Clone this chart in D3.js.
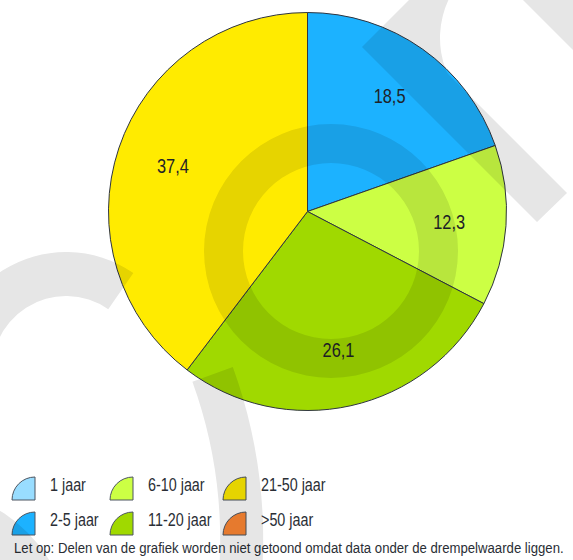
<!DOCTYPE html>
<html>
<head>
<meta charset="utf-8">
<script src="https://cdn.jsdelivr.net/npm/d3@7"></script>
<style>
  html, body { margin: 0; padding: 0; background: #fff; }
  svg { display: block; }
  text { font-family: "Liberation Sans", Arial, sans-serif; }
</style>
</head>
<body>
<div id="chart"></div>
<script>
// ---- data ----
const categories = ["1 jaar", "2-5 jaar", "6-10 jaar", "11-20 jaar", "21-50 jaar", ">50 jaar"];
const values = [null, 18.5, 12.3, 26.1, 37.4, null];   // null = below threshold, not shown
const labels = ["", "18,5", "12,3", "26,1", "37,4", ""];
const colors = ["#99DDFF", "#1CB2FF", "#CCFF44", "#A0D900", "#FFEB00", "#FF8833"];
const footnote = "Let op: Delen van de grafiek worden niet getoond omdat data onder de drempelwaarde liggen.";

const W = 573, H = 560;
const cx = 307.5, cy = 211.5, R = 199;
const deg = Math.PI / 180;
const narrow = 0.82;   // horizontal squeeze to mimic the condensed typeface

const svg = d3.select("#chart").append("svg").attr("width", W).attr("height", H);

// ---- pie ----
const data = categories.map((c, i) => ({ cat: c, value: values[i], label: labels[i], color: colors[i] }))
  .filter(d => d.value != null);
const pie = d3.pie().sort(null).value(d => d.value);
const arcs = pie(data);
const arc = d3.arc().innerRadius(0).outerRadius(R);
const labelArc = d3.arc().innerRadius(142).outerRadius(142);

const g = svg.append("g").attr("transform", `translate(${cx},${cy})`);
g.selectAll("path.slice").data(arcs).join("path")
  .attr("class", "slice")
  .attr("d", arc)
  .attr("fill", d => d.data.color)
  .attr("stroke", "#2f3540")
  .attr("stroke-width", 1)
  .attr("stroke-linejoin", "round");

g.selectAll("g.lbl").data(arcs).join("g")
  .attr("class", "lbl")
  .attr("transform", d => `translate(${labelArc.centroid(d)}) scale(${narrow},1)`)
  .append("text")
  .attr("text-anchor", "middle")
  .attr("dy", "0.36em")
  .attr("font-size", 20)
  .attr("fill", "#1f2328")
  .text(d => d.data.label);

// ---- legend ----
const leg = svg.append("g");
const iconR = 23;
const colX = [12, 110, 223];
const rowY = [477, 512];
const iconArc = d3.arc().innerRadius(0).outerRadius(iconR).startAngle(-Math.PI / 2).endAngle(0);
categories.forEach((c, i) => {
  const col = Math.floor(i / 2), row = i % 2;
  const x0 = colX[col], y0 = rowY[row];
  leg.append("path")
    .attr("transform", `translate(${x0 + iconR},${y0 + iconR})`)
    .attr("d", iconArc())
    .attr("fill", colors[i])
    .attr("stroke", "#4d5560")
    .attr("stroke-width", 1);
  leg.append("g")
    .attr("transform", `translate(${x0 + 38},${y0 + 14}) scale(${narrow},1)`)
    .append("text")
    .attr("font-size", 17.5)
    .attr("fill", "#2a2e35")
    .text(c);
});

// footnote: condensed by a horizontal scale so it spans the same width as the reference
const fg = svg.append("g");
const ft = fg.append("text")
  .attr("font-size", 15.5)
  .attr("fill", "#2a2e35")
  .text(footnote);
const natural = ft.node().getComputedTextLength();
const fscale = Math.min(1, 550 / natural);
fg.attr("transform", `translate(14,553) scale(${fscale},1)`);

// ---- watermark (decoration, drawn on top with group opacity) ----
const wm = svg.append("g").attr("opacity", 0.1).attr("fill", "#000").style("pointer-events", "none");
const rings = [
  { x: 331, y: 251, r0: 88, r1: 127, a0: 0, a1: 360 },
  { x: 66, y: 370, r0: 74, r1: 118, a0: -100, a1: 34.8 },
  { x: -240.8, y: 539.4, r0: 461, r1: 504, a0: 70, a1: 100 },
  { x: 530, y: 38, r0: 90, r1: 120, a0: -135, a1: -40 },
  { x: -80, y: 640, r0: 100, r1: 152, a0: 0, a1: 90 }
];
const ringArc = d3.arc();
wm.selectAll("path.ring").data(rings).join("path")
  .attr("class", "ring")
  .attr("transform", d => `translate(${d.x},${d.y})`)
  .attr("d", d => ringArc({ innerRadius: d.r0, outerRadius: d.r1, startAngle: d.a0 * deg, endAngle: d.a1 * deg }));
const polys = [
  [[362, 47], [409, 0], [425, 0], [425, 51], [567, 193], [537, 222]],
  [[523, 0], [573, 0], [573, 50]]
];
wm.selectAll("path.poly").data(polys).join("path")
  .attr("class", "poly")
  .attr("d", d => d3.line()(d) + "Z");
</script>
</body>
</html>
